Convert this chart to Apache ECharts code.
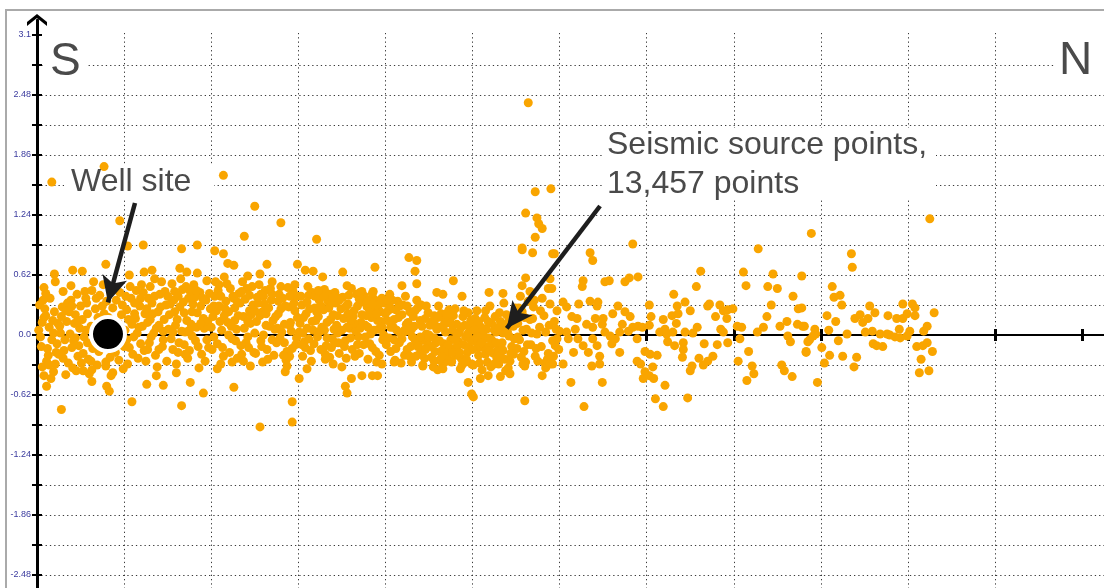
<!DOCTYPE html>
<html><head><meta charset="utf-8">
<script src="https://cdn.jsdelivr.net/npm/echarts@6/dist/echarts.min.js"></script>
<style>html,body{margin:0;padding:0;background:#fff}#c{width:1104px;height:588px}</style>
</head><body><div id="c"></div>
<script>
// ---- axis ticks / labels ----
const yTickValues = [-2.79,-2.48,-2.17,-1.86,-1.55,-1.24,-0.93,-0.62,-0.31,0,0.31,0.62,0.93,1.24,1.55,1.86,2.17,2.48,2.79,3.1];
const yLabelValues = [3.1,2.48,1.86,1.24,0.62,0,-0.62,-1.24,-1.86,-2.48];
const xTickValues = [1,2,3,4,5,6,7,8,9,10,11,12];

// ---- seismic source points (x: distance S->N in grid units, y: offset) ----
const bandSouth = [
[0.02,0.05],[0.05,-0.12],[0.08,0.18],[0.03,0.31],[0.11,-0.27],[0.14,0.08],[0.17,-0.05],[0.2,0.24],[0.22,-0.18],[0.06,-0.33],[0.15,0.38],[0.19,-0.38],[0.24,0.12],[0.1,0.43],[0.23,-0.09],[0.13,-0.21],
[0.27,0.02],[0.29,0.29],[0.31,-0.16],[0.34,0.14],[0.36,-0.29],[0.39,0.36],[0.42,-0.06],[0.44,0.21],[0.47,-0.22],[0.49,0.07],[0.33,-0.41],[0.46,0.42],[0.28,0.19],[0.41,-0.34],[0.38,0.01],[0.48,-0.11],
[0.52,0.16],[0.54,-0.02],[0.57,0.33],[0.59,-0.25],[0.62,0.09],[0.64,-0.14],[0.67,0.27],[0.69,-0.31],[0.72,0.41],[0.74,-0.07],[0.55,0.45],[0.6,-0.4],[0.7,0.18],[0.53,-0.19],[0.66,0.02],
[0.77,0.22],[0.8,0.35],[0.84,-0.23],[0.87,0.28],[0.9,-0.18],[0.93,0.12],[0.96,-0.09],[0.98,0.31],[0.79,-0.28],[0.95,0.44],[0.99,-0.35],[0.88,0.47],
[1.01,0.05],[1.03,0.26],[1.06,-0.13],[1.08,0.38],[1.11,-0.02],[1.13,0.17],[1.16,-0.24],[1.18,0.3],[1.21,0.09],[1.23,-0.16],[1.04,-0.3],[1.14,0.46],[1.2,0.52],[1.09,0.11],[1.24,0.22],[1.02,0.4],
[1.27,0.13],[1.29,-0.08],[1.32,0.33],[1.34,0.02],[1.36,-0.21],[1.39,0.24],[1.41,0.42],[1.44,-0.12],[1.46,0.16],[1.48,0.31],[1.3,0.5],[1.38,-0.33],[1.45,0.04],[1.26,0.27],[1.43,0.55],[1.49,-0.27],
[1.52,0.21],[1.54,-0.04],[1.57,0.36],[1.59,0.1],[1.62,-0.18],[1.64,0.29],[1.67,0.47],[1.69,-0.1],[1.72,0.15],[1.74,0.38],[1.55,0.53],[1.6,-0.3],[1.7,0.03],[1.51,0.06],[1.65,0.58],[1.73,-0.24],
[1.77,0.11],[1.79,0.32],[1.82,-0.06],[1.84,0.23],[1.87,0.44],[1.89,-0.2],[1.92,0.07],[1.94,0.36],[1.97,-0.13],[1.99,0.27],[1.8,0.52],[1.86,-0.34],[1.95,0.56],[1.78,-0.01],[1.91,0.17],[1.98,0.43],
[2.02,0.19],[2.04,0.4],[2.07,-0.09],[2.09,0.3],[2.12,0.05],[2.14,-0.22],[2.17,0.35],[2.19,0.13],[2.22,0.48],[2.24,-0.04],[2.05,0.55],[2.11,-0.3],[2.2,0.24],[2.01,-0.15],[2.15,0.6],[2.23,0.09],
[2.27,0.28],[2.29,0.06],[2.32,0.43],[2.34,-0.11],[2.37,0.19],[2.39,0.37],[2.42,-0.02],[2.44,0.25],[2.47,0.5],[2.49,-0.18],[2.3,-0.24],[2.36,0.55],[2.45,0.12],[2.26,0.38],[2.4,-0.08],[2.48,0.31],
[2.52,0.14],[2.54,0.33],[2.57,-0.06],[2.59,0.24],[2.62,0.46],[2.64,-0.15],[2.67,0.09],[2.69,0.36],[2.72,-0.21],[2.74,0.19],[2.55,0.52],[2.6,0.0],[2.7,0.42],[2.51,-0.19],[2.66,0.28],[2.73,0.06],
[2.77,0.22],[2.79,-0.03],[2.82,0.38],[2.84,0.11],[2.87,-0.17],[2.89,0.29],[2.92,0.04],[2.94,0.45],[2.97,-0.1],[2.99,0.18],[2.8,0.5],[2.86,-0.26],[2.95,0.33],[2.76,0.07],[2.9,-0.22],[2.98,0.4]
];
const bandCentral = [
[3.02,0.12],[3.04,0.31],[3.07,-0.07],[3.09,0.22],[3.12,0.41],[3.14,-0.16],[3.17,0.05],[3.19,0.28],[3.22,-0.02],[3.24,0.36],[3.05,-0.22],[3.11,0.5],[3.2,0.15],[3.01,0.03],[3.15,-0.27],[3.23,0.19],
[3.27,0.08],[3.29,0.26],[3.32,-0.11],[3.34,0.35],[3.37,0.16],[3.39,-0.04],[3.42,0.44],[3.44,0.1],[3.47,-0.19],[3.49,0.27],[3.3,0.47],[3.36,-0.23],[3.45,0.02],[3.26,-0.15],[3.4,0.21],[3.48,0.38],
[3.52,0.17],[3.54,-0.06],[3.57,0.32],[3.59,0.07],[3.62,-0.15],[3.64,0.25],[3.67,0.42],[3.69,-0.02],[3.72,0.13],[3.74,0.34],[3.55,-0.24],[3.61,0.48],[3.7,-0.19],[3.51,0.39],[3.66,0.04],[3.73,0.21],
[3.77,0.1],[3.79,0.29],[3.82,-0.09],[3.84,0.18],[3.87,0.37],[3.89,-0.17],[3.92,0.06],[3.94,0.24],[3.97,-0.05],[3.99,0.33],[3.8,-0.25],[3.86,0.45],[3.95,0.14],[3.76,0.4],[3.9,-0.28],[3.98,0.0],
[4.02,0.15],[4.04,-0.03],[4.07,0.27],[4.09,0.08],[4.12,-0.14],[4.14,0.35],[4.17,0.02],[4.19,0.21],[4.22,-0.21],[4.24,0.11],[4.05,0.42],[4.11,-0.26],[4.2,0.31],[4.01,-0.1],[4.16,-0.08],[4.23,0.4],
[4.27,0.04],[4.29,-0.12],[4.32,0.19],[4.34,-0.05],[4.37,0.28],[4.39,-0.2],[4.42,0.09],[4.44,-0.15],[4.47,0.01],[4.49,0.23],[4.3,-0.28],[4.36,0.36],[4.45,-0.24],[4.26,0.13],[4.4,0.15],[4.48,-0.08],
[4.52,-0.02],[4.54,0.14],[4.57,-0.17],[4.59,0.06],[4.62,-0.26],[4.64,0.22],[4.67,-0.09],[4.69,0.03],[4.72,-0.2],[4.74,0.17],[4.55,-0.33],[4.61,0.3],[4.7,-0.13],[4.51,0.1],[4.66,-0.3],[4.73,0.26],
[4.77,0.05],[4.79,-0.14],[4.82,0.11],[4.84,-0.07],[4.87,-0.24],[4.89,0.19],[4.92,-0.02],[4.94,-0.18],[4.97,0.08],[4.99,-0.3],[4.8,0.27],[4.86,-0.35],[4.95,0.23],[4.76,-0.27],[4.9,-0.1],[4.98,0.15],
[5.02,-0.06],[5.04,0.1],[5.07,-0.21],[5.09,0.02],[5.12,-0.13],[5.14,0.18],[5.17,-0.28],[5.19,-0.03],[5.22,0.12],[5.24,-0.19],[5.05,0.25],[5.11,-0.36],[5.2,0.3],[5.01,-0.31],[5.16,0.06],[5.23,-0.09],
[5.27,0.03],[5.29,-0.16],[5.32,0.14],[5.34,-0.08],[5.37,-0.25],[5.39,0.21],[5.42,-0.01],[5.44,-0.19],[5.47,0.09],[5.49,0.28],[5.3,-0.3],[5.36,0.33],[5.45,-0.12],[5.26,0.19],[5.41,-0.34],[5.48,-0.04],
[5.52,0.12],[5.54,-0.05],[5.57,0.24],[5.59,-0.17],[5.62,0.06],[5.64,0.35],[5.67,-0.1],[5.69,0.17],[5.72,-0.22],[5.74,0.01],[5.55,0.4],[5.61,-0.28],[5.7,0.29],[5.51,-0.14],
[5.77,0.08],[5.79,-0.12],[5.82,0.2],[5.84,0.03],[5.87,-0.19],[5.89,0.32],[5.92,-0.06],[5.94,0.14],[5.97,0.25],[5.99,-0.15],[5.8,0.38],[5.86,-0.25]
];
const bandFill = [
[0.04,-0.02],[0.09,0.27],[0.12,-0.14],[0.18,0.15],[0.21,-0.3],[0.26,0.09],[0.3,-0.24],[0.35,0.33],[0.4,-0.13],[0.43,0.12],[0.45,-0.37],[0.07,0.36],[0.16,-0.45],[0.32,-0.05],[0.37,0.24],[0.5,0.3],
[0.51,-0.29],[0.56,0.05],[0.58,0.22],[0.63,-0.36],[0.68,0.38],[0.71,-0.17],[0.76,0.52],[0.82,0.18],[0.85,-0.42],[0.91,0.36],[0.94,-0.26],[0.97,0.21],[0.65,0.55],
[1.05,0.16],[1.1,-0.2],[1.12,0.33],[1.15,0.02],[1.19,-0.09],[1.22,0.44],[1.25,-0.27],[1.28,0.38],[1.31,-0.02],[1.33,0.22],[1.37,0.07],[1.4,-0.15],[1.42,0.29],[1.47,0.45],[1.07,0.5],[1.35,0.58],
[1.53,0.32],[1.56,-0.15],[1.58,0.45],[1.61,0.16],[1.63,-0.08],[1.66,0.04],[1.68,0.34],[1.71,0.5],[1.75,-0.16],[1.78,0.24],[1.81,0.39],[1.83,0.08],[1.85,-0.12],[1.88,0.3],[1.93,-0.27],[1.96,0.14],
[2.03,-0.02],[2.06,0.25],[2.08,0.46],[2.1,0.14],[2.13,-0.13],[2.16,0.27],[2.18,0.53],[2.21,-0.18],[2.25,0.4],[2.28,-0.06],[2.31,0.2],[2.33,0.33],[2.35,-0.2],[2.38,0.07],[2.41,0.48],[2.43,-0.13],[2.46,0.21],
[2.53,0.39],[2.56,0.2],[2.58,-0.12],[2.61,0.32],[2.63,0.1],[2.65,-0.25],[2.68,0.48],[2.71,0.15],[2.75,-0.08],[2.78,0.42],[2.81,0.03],[2.83,-0.21],[2.85,0.3],[2.88,0.49],[2.91,0.13],[2.93,-0.14],[2.96,0.25],
[3.03,0.4],[3.06,0.18],[3.08,-0.13],[3.1,0.07],[3.13,0.27],[3.16,0.44],[3.18,-0.09],[3.21,0.24],[3.25,0.04],[3.28,0.4],[3.31,-0.2],[3.33,0.13],[3.35,0.28],[3.38,-0.13],[3.41,0.06],[3.43,0.33],[3.46,-0.08],
[3.53,-0.12],[3.56,0.08],[3.58,0.41],[3.6,-0.03],[3.63,0.19],[3.65,-0.22],[3.68,0.3],[3.71,0.07],[3.75,-0.1],[3.78,0.2],[3.81,0.36],[3.83,0.01],[3.85,-0.13],[3.88,0.27],[3.91,0.15],[3.93,-0.21],[3.96,0.38],
[4.03,0.25],[4.06,-0.17],[4.08,0.36],[4.1,-0.05],[4.13,0.05],[4.15,0.18],[4.18,-0.29],[4.21,0.03],[4.25,-0.15],[4.28,0.24],[4.31,-0.02],[4.33,0.09],[4.35,-0.22],[4.38,-0.09],[4.41,0.31],[4.43,-0.31],[4.46,0.17],
[4.53,-0.23],[4.56,0.2],[4.58,-0.08],[4.6,-0.36],[4.63,0.08],[4.65,-0.16],[4.68,0.15],[4.71,-0.27],[4.75,-0.05],[4.78,0.2],[4.81,-0.21],[4.83,-0.11],[4.85,0.03],[4.88,-0.31],[4.91,0.1],[4.93,-0.25],[4.96,-0.12],
[5.03,0.17],[5.06,-0.13],[5.08,-0.29],[5.1,0.08],[5.13,-0.04],[5.15,-0.2],[5.18,0.14],[5.21,-0.33],[5.25,0.05],[5.28,-0.24],[5.31,0.23],[5.33,-0.13],[5.35,0.02],[5.38,-0.37],[5.4,0.12],[5.43,-0.27],[5.46,0.18],
[5.53,0.28],[5.56,-0.23],[5.58,0.05],[5.63,-0.1],[5.66,0.16],[5.71,0.36],[5.73,-0.14],[5.78,0.25],[5.83,-0.29],[5.88,0.1],[5.93,-0.22],[5.96,0.06]
];
const bandCore = [
[0.06,0.13],[0.14,-0.31],[0.25,-0.2],[0.33,0.25],[0.44,-0.03],[0.58,-0.08],[0.73,0.12],[1.0,-0.12],[1.17,0.08],[1.3,0.16],[1.45,-0.05],[1.58,0.24],[1.7,-0.2],[1.76,0.45],[1.9,0.38],[2.0,0.08],[2.11,0.4],[2.2,0.0],[2.3,0.34],[2.44,0.41],[2.5,0.02],[2.6,0.4],[2.7,-0.05],[2.8,0.27],[2.9,0.4],[2.98,-0.03],
[3.05,0.02],[3.12,-0.04],[3.19,0.4],[3.26,0.3],[3.33,-0.03],[3.39,0.33],[3.45,0.2],[3.5,0.05],[3.57,0.22],[3.64,0.12],[3.7,0.37],[3.77,-0.02],[3.82,0.25],[3.87,0.05],[3.93,0.32],[4.0,0.22],[4.06,0.08],[4.12,0.26],[4.19,-0.04],[4.25,0.3],[4.3,0.06],[4.37,-0.12],[4.42,-0.05],[4.47,0.3],
[4.52,-0.12],[4.57,0.1],[4.62,-0.06],[4.67,0.1],[4.72,-0.1],[4.77,-0.18],[4.82,0.0],[4.87,0.08],[4.92,-0.28],[4.97,-0.04],[5.02,0.05],[5.07,0.14],[5.12,0.0],[5.17,-0.12],[5.22,-0.05],[5.27,-0.08],[5.32,-0.22],[5.37,0.08],[5.42,0.17],[5.47,-0.2],[5.52,-0.02],[5.6,0.18],[5.68,0.02]
];
const bandCore2 = [
[0.1,0.2],[0.19,0.02],[0.3,0.45],[0.4,0.3],[0.47,0.15],[0.56,0.38],[0.62,-0.27],[0.7,-0.02],[0.75,0.3],[1.03,-0.05],[1.12,0.22],[1.19,0.38],[1.27,-0.15],[1.35,0.4],[1.4,0.1],[1.5,0.4],[1.56,0.03],[1.62,0.4],[1.69,0.23],[1.75,0.05],[1.83,0.46],[1.88,0.12],[1.95,-0.05],[2.03,0.3],[2.09,0.52],[2.15,0.2],[2.27,0.15],[2.35,0.45],[2.42,0.14],[2.5,0.25],[2.57,0.42],[2.63,0.22],[2.7,0.55],[2.77,0.35],[2.84,-0.08],[2.9,0.1],[2.96,0.52],
[3.04,-0.1],[3.1,0.34],[3.16,0.14],[3.23,0.46],[3.3,0.05],[3.36,0.42],[3.42,-0.08],[3.47,0.36],[3.55,0.3],[3.6,0.15],[3.68,-0.1],[3.73,0.45],[3.8,0.08],[3.85,0.32],[3.9,0.22],[3.96,0.08],[4.04,0.32],[4.1,0.16],[4.16,0.3],[4.22,0.05],[4.28,-0.22],[4.34,0.25],[4.4,-0.02],[4.46,-0.15],
[4.5,0.0],[4.56,-0.03],[4.6,0.18],[4.65,-0.22],[4.7,0.22],[4.75,0.12],[4.8,-0.05],[4.85,-0.18],[4.9,0.25],[4.95,0.02],[5.0,-0.15],[5.05,-0.02],[5.1,-0.08],[5.15,0.25],[5.2,-0.16],[5.25,-0.3],[5.3,0.08],[5.35,-0.16],[5.4,0.04],[5.45,0.12],[5.5,0.2],[5.58,-0.3]
];
const upperFringe = [
[2.38,1.02],[1.22,0.93],[1.04,0.92],[1.84,0.93],[1.66,0.89],[2.04,0.87],[2.14,0.84],[2.8,1.16],
[0.79,0.73],[0.41,0.67],[0.52,0.66],[0.2,0.63],[1.32,0.67],[1.23,0.65],[1.06,0.62],[1.64,0.69],[1.72,0.65],[1.84,0.64],[2.19,0.74],[2.26,0.72],[2.64,0.73],[2.56,0.63],[2.42,0.61],
[0.08,0.49],[0.21,0.55],[0.39,0.51],[0.63,0.46],
[3.21,0.99],[4.27,0.8],[4.36,0.77],[4.34,0.66],[3.88,0.7],[3.51,0.65],[2.99,0.73],[3.08,0.67],[3.17,0.66],[3.28,0.6],[4.78,0.56],[4.36,0.53],
[5.57,0.88],[5.69,0.85],[5.92,0.84],[5.61,0.59],[5.57,0.51],[5.35,0.43],[5.19,0.44],[5.66,0.45],[5.87,0.48],[4.88,0.4],[4.66,0.42],[4.59,0.44],[4.19,0.51],[3.56,0.51],[3.71,0.44],[3.85,0.43],[4.02,0.36],[3.4,0.39]
];
const lowerFringe = [
[0.08,-0.42],[0.11,-0.53],[0.28,-0.77],[0.63,-0.48],[0.8,-0.53],[0.83,-0.58],[0.79,-0.32],[0.87,-0.39],[0.53,-0.37],[1.09,-0.69],[1.26,-0.51],[1.45,-0.52],[1.37,-0.42],[1.6,-0.39],[1.66,-0.73],[1.76,-0.49],[1.91,-0.6],[2.26,-0.54],[2.07,-0.35],[2.24,-0.28],[2.37,-0.27],[2.45,-0.32],[2.59,-0.28],[2.85,-0.38],[2.87,-0.32],[2.93,-0.69],[2.56,-0.95],[2.93,-0.9],
[5.6,-0.68],[4.99,-0.61],[5.01,-0.64],[4.95,-0.49],[3.56,-0.6],[3.54,-0.53],[3.61,-0.45],[3.73,-0.42],[3.85,-0.42],[3.91,-0.42],[3.96,-0.3],[4.1,-0.28],[4.43,-0.32],[4.56,-0.27],[4.66,-0.35],[4.76,-0.28],[5.09,-0.45],[5.18,-0.42],[5.32,-0.43],[5.43,-0.4],[5.6,-0.32],[5.75,-0.27],[5.8,-0.42],[5.84,-0.34],[5.89,-0.3],[3.01,-0.45],[3.1,-0.35],[3.31,-0.25],[3.4,-0.3],[3.5,-0.33]
];
const highOutliers = [
[0.17,1.58],[0.77,1.74],[0.95,1.18],[2.14,1.65],[2.5,1.33],[5.64,2.4],[5.72,1.48],[5.9,1.51],[5.61,1.26],[5.74,1.21],[5.76,1.15],[5.8,1.1],[5.72,1.01],[5.57,0.9],[8.89,1.05],[10.25,1.2],[6.84,0.94],[8.28,0.89],[9.35,0.84],[9.36,0.7]
];
const northScatter = [
[5.89,0.58],[5.91,0.48],[6.04,0.34],[6.08,0.29],[6.22,0.32],[6.35,0.35],[6.44,0.34],[6.43,0.3],[6.67,0.3],[6.61,0.22],[6.75,0.24],[6.81,0.19],[6.9,0.09],[6.95,0.08],[6.84,0.08],[6.72,0.11],[6.69,0.03],[6.79,0.04],[6.89,-0.04],[6.64,-0.04],[6.58,-0.01],[6.52,0.03],[6.49,0.11],[6.38,0.08],[6.41,0.17],[6.31,0.11],[6.5,0.17],[6.14,0.19],[6.2,0.17],[6.18,0.06],[6.08,0.03],[6.0,0.04],[5.97,-0.04],[5.95,-0.11],[5.89,-0.22],[5.92,-0.3],[6.04,-0.3],[6.1,-0.04],[6.16,-0.18],[6.21,-0.04],[6.27,-0.11],[6.33,-0.18],[6.38,-0.04],[6.43,-0.11],[6.46,-0.22],[6.37,-0.32],[6.46,-0.3],[6.6,-0.09],[6.69,-0.18],[6.89,-0.27],[6.93,-0.3],[6.13,-0.49],[6.49,-0.49],[6.28,-0.74],
[5.94,0.84],[6.35,0.85],[6.38,0.77],[6.27,0.56],[6.26,0.5],[6.52,0.55],[6.57,0.56],[6.75,0.55],[6.8,0.59],[6.9,0.6],
[7.03,0.31],[7.05,0.19],[7.03,0.1],[6.98,-0.17],[7.04,-0.2],[7.12,-0.21],[6.98,-0.38],[7.07,-0.33],[7.03,-0.42],[6.96,-0.45],[7.08,-0.45],[7.21,-0.52],[7.1,-0.66],[7.19,-0.74],[7.47,-0.65],
[7.19,0.16],[7.21,0.06],[7.15,0.03],[7.23,0.01],[7.29,0.2],[7.35,0.3],[7.36,0.22],[7.34,0.12],[7.3,0.03],[7.24,-0.07],[7.32,-0.11],[7.42,-0.08],[7.42,-0.15],[7.41,-0.23],[7.44,0.34],[7.5,0.25],[7.44,0.03],[7.58,0.08],[7.53,0.02],[7.66,-0.09],[7.7,0.3],[7.72,0.32],[7.79,0.19],[7.84,0.31],[7.88,0.25],[7.93,0.26],[7.99,0.27],[7.92,0.17],[7.85,0.06],[7.88,0.03],[7.81,-0.1],[7.93,-0.08],[7.76,-0.22],[7.7,-0.27],[7.65,-0.31],[7.6,-0.24],[7.52,-0.32],[7.5,-0.37],
[7.62,0.66],[7.57,0.5],[7.31,0.42],
[8.11,0.65],[8.14,0.51],[8.45,0.63],[8.39,0.5],[8.5,0.48],[8.78,0.61],
[8.68,0.4],[8.74,0.27],[8.73,0.11],[8.79,0.09],[8.53,0.09],[8.61,0.14],[8.34,0.08],[8.38,0.19],[8.27,0.03],[8.43,0.31],
[8.09,0.08],[8.04,0.09],[8.07,-0.04],[8.17,-0.17],[8.05,-0.27],[8.21,-0.32],[8.23,-0.4],[8.15,-0.47],
[8.62,-0.01],[8.65,-0.07],[8.83,-0.17],[8.55,-0.31],[8.58,-0.37],[8.67,-0.43],[8.96,-0.49],[8.94,0.01],[8.85,-0.07],
[9.13,0.5],[9.15,0.39],[9.22,0.41],[9.24,0.31],[8.78,0.28],[8.81,0.09],[9.07,0.2],[9.17,0.14],[9.09,0.05],[8.93,0.06],[8.91,-0.01],[8.87,-0.05],[8.83,-0.18],[9.01,-0.13],[9.1,-0.21],[9.04,-0.29],[9.25,-0.22],[9.38,-0.33],[9.41,-0.23],[9.3,0.01],[9.2,-0.06],
[9.39,0.17],[9.45,0.21],[9.48,0.13],[9.54,0.17],[9.56,0.3],[9.62,0.23],[9.51,0.03],[9.59,0.04],[9.68,0.01],[9.76,0.01],[9.79,0.0],[9.85,-0.02],[9.77,0.2],[9.87,0.17],[9.9,0.06],[9.94,0.17],[9.94,0.32],[10.05,0.32],[10.08,0.28],[9.99,0.22],[10.08,0.2],[10.02,0.04],[9.99,-0.01],[9.91,-0.03],[9.6,-0.09],[9.64,-0.11],[9.71,-0.12],
[10.22,0.09],[10.18,0.04],[10.3,0.23],[10.1,-0.12],[10.17,-0.11],[10.22,-0.08],[10.15,-0.25],[10.28,-0.17],[10.13,-0.39],[10.24,-0.37]
];
const wellSite = [[0.815, 0.01]];
const arrowWell = [[1.125, 1.364], [0.814, 0.337]];
const arrowSeismic = [[6.464, 1.333], [5.393, 0.069]];
const labelWell = 'Well site';
const labelSeismic = ['Seismic source points,', '13,457 points'];

const FONT = 'Arial, "Liberation Sans", sans-serif';
const TEXT_COLOR = '#4a4a4a';
const sourcePoints = [].concat(bandSouth, bandCentral, bandFill, bandCore, bandCore2, upperFringe, lowerFringe, highOutliers, northScatter);

const gridLine = { show: true, showMinLine: true, showMaxLine: false, lineStyle: { color: '#3a3a3a', width: 1, type: [1.3, 3] } };
const chevron = 'path://M0,8L10,0L20,8L20,12L10,4L0,12Z';

const chart = echarts.init(document.getElementById('c'), null, { renderer: 'canvas' });
chart.setOption({
  animation: false,
  backgroundColor: '#fff',
  grid: { left: 37, right: 0, top: 20, bottom: -17, containLabel: false, outerBoundsMode: 'none' },
  xAxis: [
    { type: 'value', min: 0, max: 12.25, interval: 1, position: 'bottom',
      axisLine: { show: true, onZero: true, lineStyle: { color: '#000', width: 2 } },
      axisTick: { show: true, inside: false, length: 6, customValues: xTickValues, lineStyle: { color: '#000', width: 3 } },
      axisLabel: { show: false }, splitLine: gridLine },
    { type: 'value', min: 0, max: 12.25, interval: 1, position: 'bottom',
      axisLine: { show: false, onZero: true },
      axisTick: { show: true, inside: true, length: 6, customValues: xTickValues, lineStyle: { color: '#000', width: 3 } },
      axisLabel: { show: false }, splitLine: { show: false } }
  ],
  yAxis: [
    { type: 'value', min: -2.79, max: 3.255, interval: 0.31, position: 'left',
      axisLine: { show: true, onZero: false, symbol: ['none', chevron], symbolSize: [20, 12], lineStyle: { color: '#000', width: 3 } },
      axisTick: { show: true, inside: false, length: 5, customValues: yTickValues, lineStyle: { color: '#000', width: 2 } },
      axisLabel: { show: true, customValues: yLabelValues, margin: 6, color: '#3b3b9e', fontSize: 9, fontFamily: FONT,
        formatter: function (v) {
          const k = Math.round(v / 0.62);
          if (Math.abs(k * 0.62 - v) > 1e-6 || v > 3.2 || v < -2.6) return '';
          if (Math.abs(v) < 1e-9) return '0.0';
          return String(+v.toFixed(2));
        } },
      splitLine: gridLine },
    { type: 'value', min: -2.79, max: 3.255, interval: 0.31, position: 'left',
      axisLine: { show: false, onZero: false },
      axisTick: { show: true, inside: true, length: 5, customValues: yTickValues, lineStyle: { color: '#000', width: 2 } },
      axisLabel: { show: false }, splitLine: { show: false } }
  ],
  series: [
    { name: 'Seismic source points', type: 'scatter', data: sourcePoints, symbol: 'circle', symbolSize: 9,
      itemStyle: { color: '#F9A500', opacity: 1 }, silent: true, z: 2 },
    { name: 'Well site', type: 'scatter', data: wellSite, symbol: 'circle', symbolSize: 34,
      itemStyle: { color: '#000', borderColor: '#fff', borderWidth: 4, opacity: 1 }, silent: true, z: 3,
      markLine: { silent: true, symbol: ['none', 'arrow'], symbolSize: [19, 26], label: { show: false },
        lineStyle: { color: '#1e1e1e', width: 4.5, type: 'solid', opacity: 1 }, emphasis: { disabled: true }, animation: false,
        data: [
          [{ coord: arrowWell[0] }, { coord: arrowWell[1] }],
          [{ coord: arrowSeismic[0] }, { coord: arrowSeismic[1] }]
        ] } }
  ],
  graphic: { elements: [
    { type: 'rect', z: 1, silent: true, shape: { x: 48, y: 11, width: 1056, height: 22 }, style: { fill: '#fff' } },
    { type: 'rect', z: 1, silent: true, shape: { x: 44, y: 40, width: 44, height: 46 }, style: { fill: '#fff' } },
    { type: 'rect', z: 1, silent: true, shape: { x: 1056, y: 40, width: 48, height: 46 }, style: { fill: '#fff' } },
    { type: 'rect', z: 1, silent: true, shape: { x: 64, y: 166, width: 150, height: 34 }, style: { fill: '#fff' } },
    { type: 'rect', z: 1, silent: true, shape: { x: 604, y: 128, width: 332, height: 72 }, style: { fill: '#fff' } },
    { type: 'text', z: 6, silent: true, x: 50, y: 62, style: { text: 'S', fontSize: 46, fontFamily: FONT, fill: TEXT_COLOR, verticalAlign: 'middle', align: 'left' } },
    { type: 'text', z: 6, silent: true, x: 1059, y: 61, style: { text: 'N', fontSize: 46, fontFamily: FONT, fill: TEXT_COLOR, verticalAlign: 'middle', align: 'left' } },
    { type: 'text', z: 6, silent: true, x: 71, y: 182, style: { text: labelWell, fontSize: 32, fontFamily: FONT, fill: TEXT_COLOR, verticalAlign: 'middle', align: 'left' } },
    { type: 'text', z: 6, silent: true, x: 607, y: 145, style: { text: labelSeismic[0], fontSize: 32, fontFamily: FONT, fill: TEXT_COLOR, verticalAlign: 'middle', align: 'left' } },
    { type: 'text', z: 6, silent: true, x: 607, y: 184, style: { text: labelSeismic[1], fontSize: 32, fontFamily: FONT, fill: TEXT_COLOR, verticalAlign: 'middle', align: 'left' } },
    { type: 'polyline', z: 10, silent: true, shape: { points: [[6, 588], [6, 10], [1104, 10]] }, style: { stroke: '#aaaaaa', lineWidth: 2, fill: null } }
  ] }
});
</script>
</body></html>
